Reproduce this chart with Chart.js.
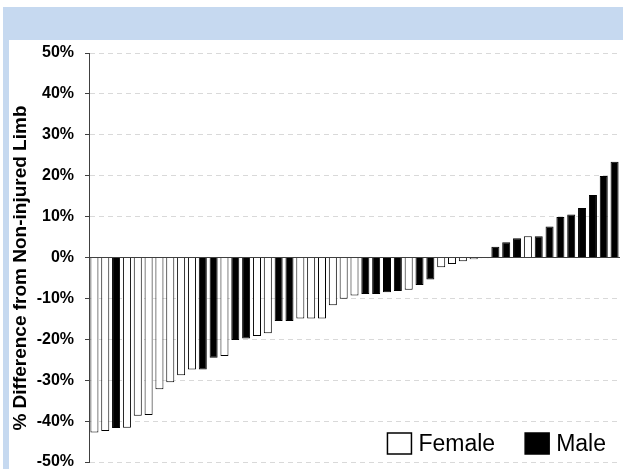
<!DOCTYPE html>
<html>
<head>
<meta charset="utf-8">
<script src="https://cdn.jsdelivr.net/npm/chart.js@4"></script>
<style>
  html, body { margin: 0; padding: 0; background: #fff; }
  body { width: 623px; height: 469px; position: relative; overflow: hidden; }
  #frame { position: absolute; left: 3px; top: 7px; right: 0; bottom: 0; background: #c6d9f0; }
  #panel { position: absolute; left: 9px; top: 40px; width: 614px; height: 429px; background: #fff; }
  canvas { display: block; }
</style>
</head>
<body>
<div id="frame"></div>
<div id="panel"><canvas id="limb-chart" width="614" height="429"></canvas></div>
<script>
// one bar per subject, sorted by % difference
const values = [
  -42.8, -42.4, -41.7, -41.6, -38.7, -38.5, -32.2, -30.5, -28.8, -27.4,
  -27.4, -24.5, -24.1, -20.2, -19.8, -19.2, -18.5, -15.5, -15.5, -14.9,
  -14.9, -14.9, -11.7, -10.1, -9.3, -8.9, -8.9, -8.5, -8.2, -7.9,
  -6.7, -5.4, -2.4, -1.6, -0.9, -0.4, -0.2, 2.6, 3.7, 4.7,
  5.2, 5.2, 7.6, 9.9, 10.5, 12.1, 15.3, 19.9, 23.4
];
const sex = [
  "F", "F", "M", "F", "F", "F", "F", "F", "F", "F",
  "M", "M", "F", "M", "M", "F", "F", "M", "M", "F",
  "F", "F", "F", "F", "F", "M", "M", "M", "M", "F",
  "M", "M", "F", "F", "F", "F", "F", "M", "M", "M",
  "F", "M", "M", "M", "M", "M", "M", "M", "M"
];
const subjects = values.map((v, i) => "S" + (i + 1));
const legendItems = ["Female", "Male"];
const yTicks = [-50, -40, -30, -20, -10, 0, 10, 20, 30, 40, 50];

const axisColor = "#404040";
const fontFamily = '"Liberation Sans", Arial, sans-serif';

// legend drawn inside the plot, bottom right
const sexLegend = {
  id: "sexLegend",
  afterDraw(chart) {
    const { ctx, chartArea } = chart;
    ctx.save();
    ctx.font = "23px " + fontFamily;
    ctx.textBaseline = "middle";
    const cy = chartArea.bottom - 18.5;
    const boxW = 24, boxH = 21, gap = 7, itemGap = 30;
    let x = chartArea.right - 14;
    const fills = ["#fff", "#000"];
    for (let i = legendItems.length - 1; i >= 0; i--) {
      const w = ctx.measureText(legendItems[i]).width;
      x -= w;
      ctx.fillStyle = "#000";
      ctx.fillText(legendItems[i], x, cy + 1);
      x -= gap + boxW;
      ctx.fillStyle = fills[i];
      ctx.fillRect(x, cy - boxH / 2, boxW, boxH);
      ctx.lineWidth = 1.5;
      ctx.strokeStyle = "#000";
      ctx.strokeRect(x, cy - boxH / 2, boxW, boxH);
      x -= itemGap;
    }
    ctx.restore();
  }
};

const ctx = document.getElementById("limb-chart").getContext("2d");
new Chart(ctx, {
  type: "bar",
  data: {
    labels: subjects,
    datasets: [
      {
        label: "% Difference",
        data: values,
        backgroundColor: sex.map(s => (s === "M" ? "#000" : "#fff")),
        borderColor: "#000",
        borderWidth: 1,
        barPercentage: 0.74,
        categoryPercentage: 1.0,
      },
    ],
  },
  options: {
    responsive: false,
    animation: false,
    layout: { padding: { top: 13, right: 3, bottom: 7, left: 0 } },
    plugins: {
      legend: { display: false },
      tooltip: { enabled: false },
    },
    scales: {
      x: { display: false },
      y: {
        min: -50,
        max: 50,
        afterBuildTicks: scale => {
          scale.ticks = yTicks.map(v => ({ value: v }));
        },
        afterFit: scale => {
          scale.width = 80;
          scale.paddingTop = 0;
          scale.paddingBottom = 0;
        },
        ticks: {
          callback: v => v + "%",
          color: "#000",
          padding: 11,
          font: { family: fontFamily, size: 16, weight: "bold" },
        },
        grid: {
          color: c => (c.tick && c.tick.value === 0 ? axisColor : "#d9d9d9"),
          lineWidth: 1,
          tickLength: 4,
          tickColor: axisColor,
          tickBorderDash: [],
        },
        border: {
          display: true,
          color: axisColor,
          width: 1,
          dash: c => (c.tick && c.tick.value === 0 ? [] : [5, 4]),
        },
        title: {
          display: true,
          text: "% Difference from Non-injured Limb    ",
          color: "#000",
          padding: 0,
          font: { family: fontFamily, size: 19, weight: "bold" },
        },
      },
    },
  },
  plugins: [sexLegend],
});
</script>
</body>
</html>
